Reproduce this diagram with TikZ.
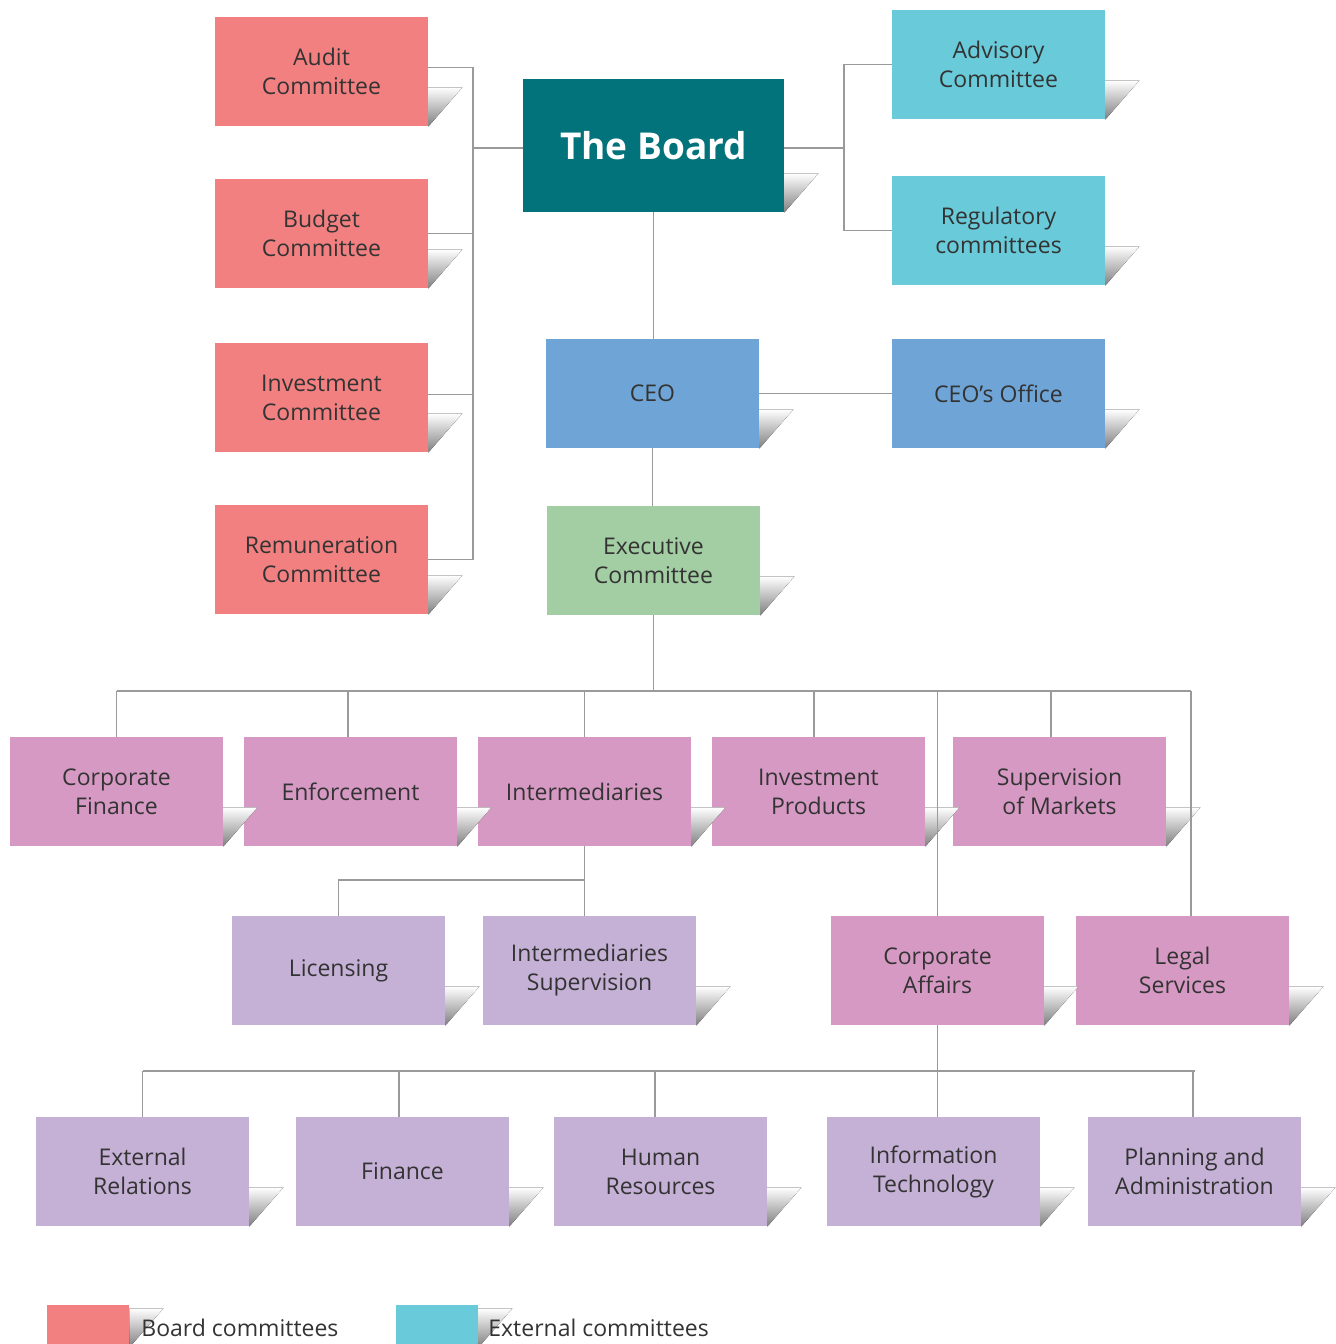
\documentclass[tikz,border=0pt]{standalone}
\usepackage{fontspec}
\setmainfont{Open Sans}
\usepackage{xcolor}
\usetikzlibrary{positioning, calc}

\definecolor{boardteal}{HTML}{03737B}
\definecolor{redbox}{HTML}{F28080}
\definecolor{cyanbox}{HTML}{69CAD9}
\definecolor{bluebox}{HTML}{6FA4D6}
\definecolor{greenbox}{HTML}{A3CDA3}
\definecolor{pinkbox}{HTML}{D699C3}
\definecolor{lilacbox}{HTML}{C5B0D6}
\definecolor{linegray}{HTML}{9A9A9A}
\definecolor{textgray}{HTML}{333333}

\tikzset{
  unit/.style={minimum width=106.5pt, minimum height=54.5pt, inner sep=0pt,
               align=center, text=textgray,
               font=\fontsize{11.5}{14.5}\selectfont},
  boardcom/.style={unit, fill=redbox},
  extcom/.style={unit, fill=cyanbox},
  ceounit/.style={unit, fill=bluebox},
  execunit/.style={unit, fill=greenbox},
  division/.style={unit, fill=pinkbox},
  section/.style={unit, fill=lilacbox},
  legbox/.style={unit, minimum width=41pt, minimum height=21pt},
  link/.style={draw=linegray, line width=0.9pt},
  legtext/.style={text=textgray, font=\fontsize{11.5}{14.5}\selectfont, anchor=west, inner sep=0pt}
}

% grey fold under the right bottom corner
\newcommand{\cornershade}[1]{%
  \fill[top color=white, bottom color=black!50]
    (#1.south east) -- ++(0,-39) -- ++(34,0) -- cycle;}

\begin{document}
\begin{tikzpicture}[x=0.5pt, y=-0.5pt]
\useasboundingbox (0,0) rectangle (1335,1344);

% Board and its committees
\node[unit, fill=boardteal, minimum width=130.5pt, minimum height=66.5pt,
      text=white, font=\fontsize{18.5}{22}\selectfont\bfseries]
  (board) at (653.5,145.5) {The Board};
\node[boardcom] (audit)  at (321.5,71.5)  {Audit\\Committee};
\node[boardcom] (budget) at (321.5,233.5) {Budget\\Committee};
\node[boardcom] (invcom) at (321.5,397.5) {Investment\\Committee};
\node[boardcom] (remun)  at (321.5,559.5) {Remuneration\\Committee};
\node[extcom] (advis) at (998.5,64.5)  {Advisory\\Committee};
\node[extcom] (regul) at (998.5,230.5) {Regulatory\\committees};

% CEO level
\node[ceounit] (ceo)    at (652.5,393.5) {CEO};
\node[ceounit] (ceooff) at (998.5,393.5) {CEO’s Office};
\node[execunit] (exec)  at (653.5,560.5) {Executive\\Committee};

% Divisions
\node[division] (corpfin) at (116.5,791.5)  {Corporate\\Finance};
\node[division] (enforce) at (350.5,791.5)  {Enforcement};
\node[division] (interm)  at (584.5,791.5)  {Intermediaries};
\node[division] (invprod) at (818.5,791.5)  {Investment\\Products};
\node[division] (superv)  at (1059.5,791.5) {Supervision\\of Markets};
\node[section]  (licens)  at (338.5,970.5)  {Licensing};
\node[section]  (intsup)  at (589.5,970.5)  {Intermediaries\\Supervision};
\node[division] (corpaff) at (937.5,970.5)  {Corporate\\Affairs};
\node[division] (legal)   at (1182.5,970.5) {Legal\\Services};

% Corporate Affairs sections
\node[section] (extrel)  at (142.5,1171.5)  {External\\Relations};
\node[section] (finance) at (402.5,1171.5)  {Finance};
\node[section] (humres)  at (660.5,1171.5)  {Human\\Resources};
\node[section] (infotec) at (933.5,1171.5)  {Information\\Technology};
\node[section] (planadm) at (1194.5,1171.5) {Planning and\\Administration};

% Legend boxes
\node[legbox, fill=redbox]  (legboard) at (88,1326) {};
\node[legbox, fill=cyanbox] (legext)   at (437,1326) {};

% Folds
\foreach \n in {board,audit,budget,invcom,remun,advis,regul,ceo,ceooff,exec,
                corpfin,enforce,interm,invprod,superv,licens,intsup,corpaff,legal,
                extrel,finance,humres,infotec,planadm,legboard,legext}
  {\cornershade{\n}}

% Legend texts
\node[legtext] (legboardtxt) at (141,1328) {Board committees};
\node[legtext] (legexttxt)   at (488,1328) {External committees};

% Board connectors
\coordinate (lbus) at (473,0);
\coordinate (rbus) at (844,0);
\draw[link] ($(audit.east)+(0,-4)$) -| (lbus |- remun.east) -- (remun.east);
\draw[link] (budget.east) -- (lbus |- budget.east);
\draw[link] ($(invcom.east)+(0,-3)$) -- ($(lbus |- invcom.east)+(0,-3)$);
\draw[link] ($(board.west)+(0,2.5)$) -- ++(-50,0);
\draw[link] (advis.west) -| (rbus |- regul.west) -- (regul.west);
\draw[link] ($(board.east)+(0,2.5)$) -- ++(60,0);

% Chain down
\draw[link] (board.south) -- (ceo.north -| board.south);
\draw[link] (ceo.east) -- (ceooff.west);
\draw[link] (ceo.south) -- (exec.north -| ceo.south);

% Division bus
\coordinate (exbus) at (0,691);
\draw[link] (exec.south) -- (exec.south |- exbus);
\draw[link] (corpfin.north |- exbus) -- ($(legal.north |- exbus)+(8.5,0)$);
\foreach \n/\dx in {corpfin/0,enforce/-2.5,interm/0,invprod/-4.5,superv/-8.5,corpaff/0,legal/8.5}
  {\draw[link] ($(\n.north)+(\dx,0)$) -- ($(\n.north |- exbus)+(\dx,0)$);}

% Intermediaries sections
\coordinate (inbus) at (0,880);
\draw[link] (interm.south) -- (interm.south |- intsup.north);
\draw[link] (licens.north) |- (interm.south |- inbus);

% Corporate Affairs sections
\coordinate (cabus) at (0,1071);
\draw[link] (corpaff.south) -- (infotec.north -| corpaff.south);
\draw[link] (extrel.north |- cabus) -- (planadm.north |- cabus);
\foreach \n/\dx in {extrel/0,finance/-3.5,humres/-5.5,planadm/-1.5}
  {\draw[link] ($(\n.north)+(\dx,0)$) -- ($(\n.north |- cabus)+(\dx,0)$);}

\end{tikzpicture}
\end{document}
